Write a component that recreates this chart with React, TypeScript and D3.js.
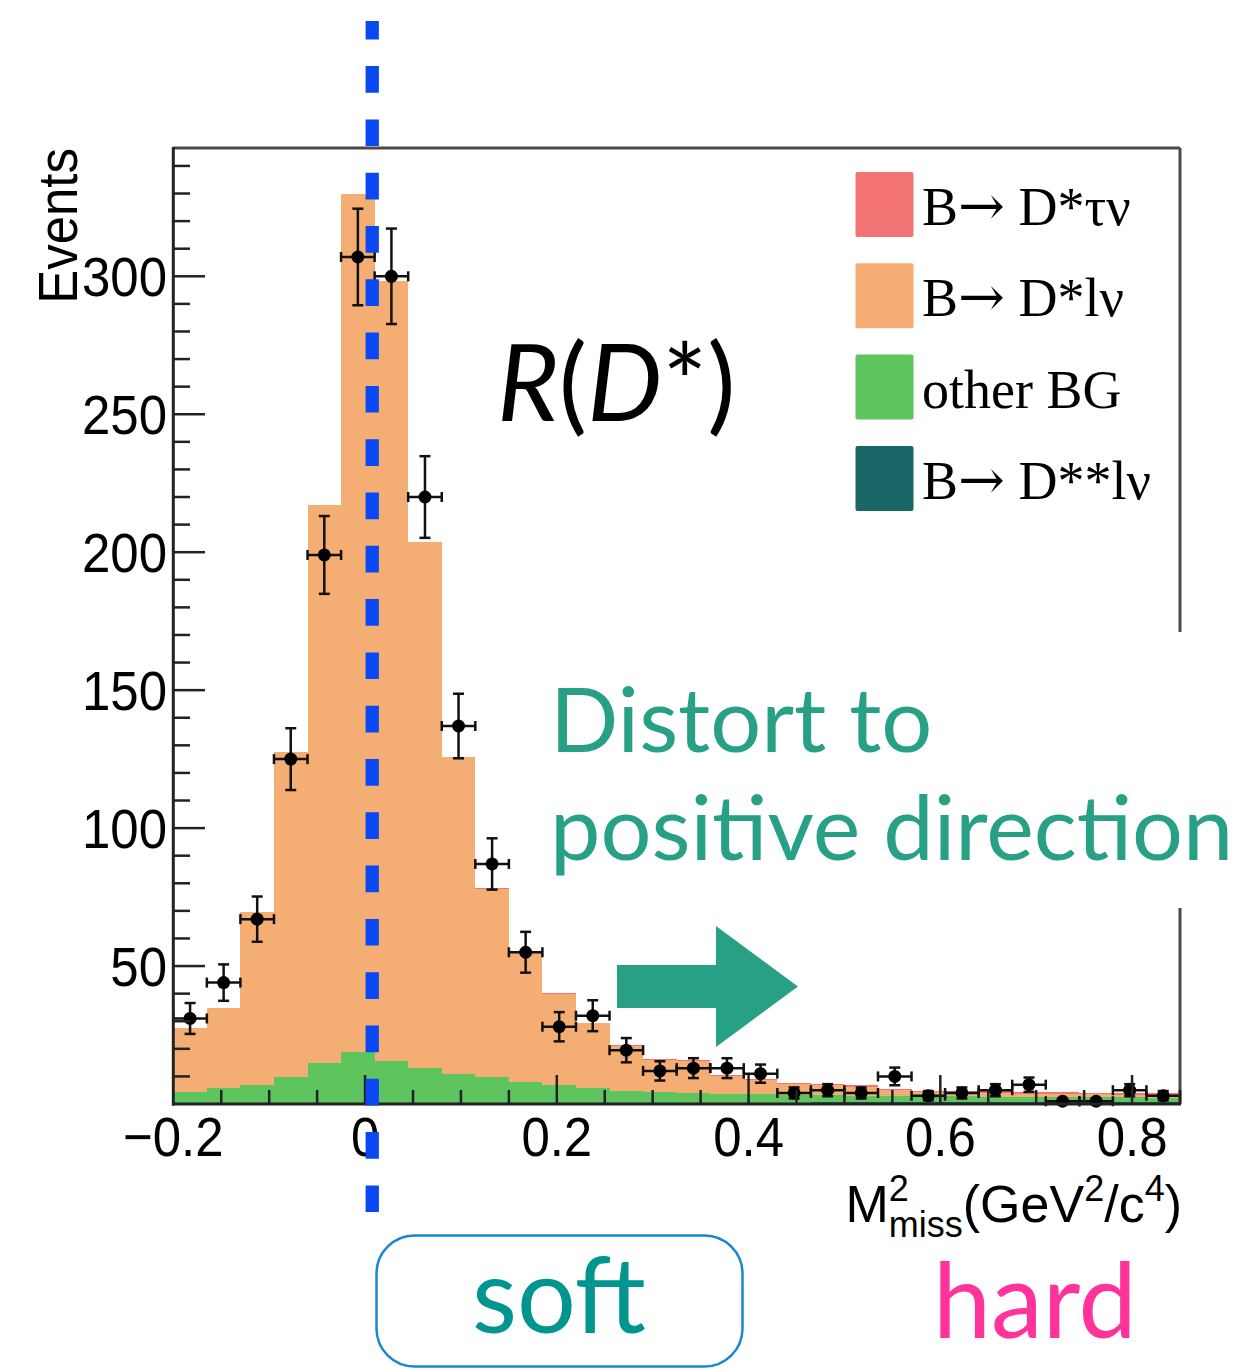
import React from 'react';
import * as d3 from 'd3';

// Histogram binning of the missing-mass-squared axis (GeV^2/c^4)
const binEdges = [
  -0.2, -0.165, -0.13, -0.095, -0.06, -0.025, 0.01, 0.045, 0.08, 0.115, 0.15,
  0.185, 0.22, 0.255, 0.29, 0.325, 0.36, 0.395, 0.43, 0.465, 0.5, 0.535, 0.57,
  0.605, 0.64, 0.675, 0.71, 0.745, 0.78, 0.815, 0.85,
];

// Stacked MC components (events per bin), bottom to top
const dssLnu = [
  0.1, 0.1, 0.1, 0.1, 0.2, 0.2, 0.2, 0.2, 0.2, 0.3, 0.3, 0.3, 0.4, 0.4, 0.4,
  0.5, 0.5, 0.5, 0.5, 0.6, 0.6, 0.6, 0.6, 0.6, 0.6, 0.6, 0.6, 0.6, 0.6, 0.6,
];
const otherBG = [
  4.1, 5.6, 6.8, 9.6, 14.8, 18.6, 15.5, 12.7, 10.7, 9.4, 7.8, 6.6, 5.3, 4.4, 3.9,
  3.5, 3.1, 3.0, 2.8, 2.6, 2.4, 2.4, 2.3, 2.2, 2.1, 2.0, 1.9, 1.8, 1.8, 1.7,
];
const dsLnu = [
  23.2, 29.0, 62.7, 117.8, 202.0, 311.2, 282.5, 190.8, 114.8, 68.4, 46.7, 33.0,
  23.6, 16.4, 11.5, 11.6, 6.5, 5.1, 3.9, 3.6, 3.2, 2.0, 1.3, 1.3, 1.3, 1.1, 1.1,
  1.1, 1.0, 1.0,
];
const dsTaunu = [
  0, 0, 0, 0, 0, 0, 0, 0, 0, 0.2, 0.2, 0.2, 0.2, 0.2, 0.4, 0.4, 0.4, 0.4, 0.4,
  0.4, 0.6, 0.6, 0.6, 0.6, 0.6, 0.6, 0.6, 0.6, 0.6, 0.6,
];

// Measured data with statistical errors
const dataCounts = [
  31, 44, 67, 125, 199, 307, 300, 220, 137, 87, 55, 28, 32, 19.5, 12, 13, 13, 11,
  4, 5, 4, 10, 3, 4, 5, 7, 1, 1, 5, 3,
];
const dataErrors = [
  5.6, 6.6, 8.2, 11.2, 14.1, 17.5, 17.3, 14.8, 11.7, 9.3, 7.4, 5.3, 5.6, 4.4,
  3.5, 3.6, 3.6, 3.3, 2.0, 2.2, 2.0, 3.2, 1.7, 2.0, 2.2, 2.6, 1.0, 1.0, 2.2, 1.7,
];

const yMajorTicks = [50, 100, 150, 200, 250, 300];
const xMajorTicks = [-0.2, 0, 0.2, 0.4, 0.6, 0.8];
const xTickLabels = ['\u22120.2', '0', '0.2', '0.4', '0.6', '0.8'];

const components = [
  { key: 'dss', label: 'D**l\u03bd', color: '#1a6767', values: dssLnu },
  { key: 'bg', label: 'other BG', color: '#5ec45e', values: otherBG },
  { key: 'dsl', label: 'D*l\u03bd', color: '#f4ae73', values: dsLnu },
  { key: 'tau', label: 'D*\u03c4\u03bd', color: '#f47474', values: dsTaunu },
];
const legendOrder = ['tau', 'dsl', 'bg', 'dss'];

const guideX = 0.0075; // reference line at the signal peak
const W = 1244;
const H = 1369;
const AX = "'Liberation Sans', Arial, Helvetica, sans-serif";
const SERIF = "'Liberation Serif', 'Times New Roman', serif";
const LATO = "Lato, 'Open Sans', sans-serif";

const Sq = ({ x, y, anchor, size, children }: any) => (
  <text
    transform={`translate(${x},${y}) scale(0.91,1)`}
    textAnchor={anchor}
    fontFamily={AX}
    fontSize={size}
    fill="#000"
  >
    {children}
  </text>
);

export default function App() {
  const x = d3.scaleLinear().domain([-0.2, 0.85]).range([173.3, 1180]);
  const y = d3.scaleLinear().domain([0, 346.5]).range([1104, 148]);

  const rows = binEdges.slice(0, -1).map((lo, i) => {
    const r: any = { lo, hi: binEdges[i + 1] };
    components.forEach((c) => (r[c.key] = c.values[i]));
    return r;
  });
  const stack = d3.stack().keys(components.map((c) => c.key))(rows as any);

  const yMinor = d3.range(10, 346, 10);
  const xMinor = d3.range(-0.15, 0.851, 0.05);

  return (
    <svg
      width={W}
      height={H}
      viewBox={`0 0 ${W} ${H}`}
      style={{ position: 'absolute', left: 0, top: 0, display: 'block', background: '#fff' }}
    >
      <rect x={0} y={0} width={W} height={H} fill="#fff" />

      {/* stacked histogram */}
      {stack.map((layer, li) => (
        <g key={layer.key} fill={components[li].color}>
          {layer.map((d: any, i: number) => (
            <rect
              key={i}
              x={x(d.data.lo)}
              width={x(d.data.hi) - x(d.data.lo)}
              y={y(d[1])}
              height={Math.max(0, y(d[0]) - y(d[1]))}
              shapeRendering="crispEdges"
            />
          ))}
        </g>
      ))}

      {/* data points */}
      <g stroke="#111" strokeWidth={2.5} fill="#000">
        {dataCounts.map((v, i) => {
          const cx = x((binEdges[i] + binEdges[i + 1]) / 2);
          const x0 = x(binEdges[i]);
          const x1 = x(binEdges[i + 1]);
          const cy = y(v);
          const yt = y(v + dataErrors[i]);
          const yb = y(Math.max(0, v - dataErrors[i]));
          return (
            <g key={i}>
              <line x1={x0} x2={x1} y1={cy} y2={cy} />
              <line x1={x0} x2={x0} y1={cy - 5} y2={cy + 5} />
              <line x1={x1} x2={x1} y1={cy - 5} y2={cy + 5} />
              <line x1={cx} x2={cx} y1={yt} y2={yb} />
              <line x1={cx - 5.5} x2={cx + 5.5} y1={yt} y2={yt} />
              <line x1={cx - 5.5} x2={cx + 5.5} y1={yb} y2={yb} />
              <circle cx={cx} cy={cy} r={6.5} stroke="none" />
            </g>
          );
        })}
      </g>

      {/* frame */}
      <line x1={173.3} x2={1180} y1={148} y2={148} stroke="#4a4a4a" strokeWidth={3} />
      <line x1={1180} x2={1180} y1={148} y2={1104} stroke="#4a4a4a" strokeWidth={3} />
      <line x1={173.3} x2={173.3} y1={147} y2={1105.5} stroke="#222" strokeWidth={3} />
      <line x1={172} x2={1181} y1={1104} y2={1104} stroke="#222" strokeWidth={3} />

      {/* y ticks */}
      <g stroke="#222" strokeWidth={2.5}>
        {yMinor.map((t) => (
          <line key={t} x1={173.3} x2={yMajorTicks.includes(t) ? 205 : 190} y1={y(t)} y2={y(t)} />
        ))}
      </g>
      {yMajorTicks.map((t) => (
        <Sq key={t} x={167} y={y(t) + 20} anchor="end" size={56}>
          {t}
        </Sq>
      ))}

      {/* x ticks */}
      <g stroke="#222" strokeWidth={2.5}>
        {xMinor.map((t) => {
          const major = xMajorTicks.some((m) => Math.abs(m - t) < 1e-6);
          return <line key={t} x1={x(t)} x2={x(t)} y1={1104} y2={major ? 1075 : 1090} />;
        })}
      </g>
      {xMajorTicks.map((t, i) => (
        <Sq key={t} x={x(t)} y={1156} anchor="middle" size={56}>
          {xTickLabels[i]}
        </Sq>
      ))}

      {/* axis titles */}
      <text
        transform="translate(77.3,148) rotate(-90) scale(0.91,1)"
        textAnchor="end"
        fontFamily={AX}
        fontSize={56}
      >
        Events
      </text>
      <text x={1182} y={1222} textAnchor="end" fontFamily={AX} fontSize={52}>
        M
        <tspan fontSize={36} dy={-21}>2</tspan>
        <tspan fontSize={36} dx={-20} dy={36}>miss</tspan>
        <tspan dy={-15}>(GeV</tspan>
        <tspan fontSize={36} dy={-21}>2</tspan>
        <tspan dy={21}>/c</tspan>
        <tspan fontSize={36} dy={-21}>4</tspan>
        <tspan dy={21}>)</tspan>
      </text>

      {/* legend */}
      {legendOrder.map((k, i) => {
        const c = components.find((cc) => cc.key === k)!;
        const top = 172 + i * 91.3;
        const decay = k !== 'bg';
        return (
          <g key={k}>
            <rect x={855.5} y={top} width={58} height={65} rx={2} fill={c.color} />
            <text x={922} y={top + 53} fontFamily={SERIF} fontSize={54} fill="#000">
              {decay ? (
                <>
                  B
                  <tspan fontFamily="'DejaVu Serif', serif" fontSize={56}>{'\u2192'}</tspan>
                  <tspan> {c.label}</tspan>
                </>
              ) : (
                c.label
              )}
            </text>
          </g>
        );
      })}

      {/* R(D*) label */}
      <text x={497} y={421} fontFamily={LATO} fontSize={106} fill="#000">
        <tspan fontStyle="italic">R</tspan>(<tspan fontStyle="italic">D</tspan>*)
      </text>

      {/* annotation */}
      <rect x={540} y={632} width={704} height={276} fill="#fff" />
      <text x={550} y={752} fontFamily={LATO} fontSize={90} fill="#27a086">
        Distort to
      </text>
      <text x={550} y={860} fontFamily={LATO} fontSize={90} fill="#27a086">
        positive direction
      </text>
      <polygon
        points="617,965 716,965 716,926 798,986.5 716,1047 716,1008 617,1008"
        fill="#27a086"
      />

      {/* dashed guide */}
      <line
        x1={x(guideX)}
        x2={x(guideX)}
        y1={21}
        y2={1212}
        stroke="#0a48f2"
        strokeWidth={13.3}
        strokeDasharray="26.7 26.6"
        strokeDashoffset={8.2}
      />

      {/* soft / hard */}
      <rect x={376.5} y={1235.5} width={366} height={131} rx={38} fill="none" stroke="#1b87d0" strokeWidth={2.5} />
      <text x={559} y={1333} textAnchor="middle" fontFamily={LATO} fontSize={104} fill="#00958f">
        soft
      </text>
      <text x={933} y={1338} fontFamily={LATO} fontSize={104} fill="#ff3399">
        hard
      </text>
    </svg>
  );
}
